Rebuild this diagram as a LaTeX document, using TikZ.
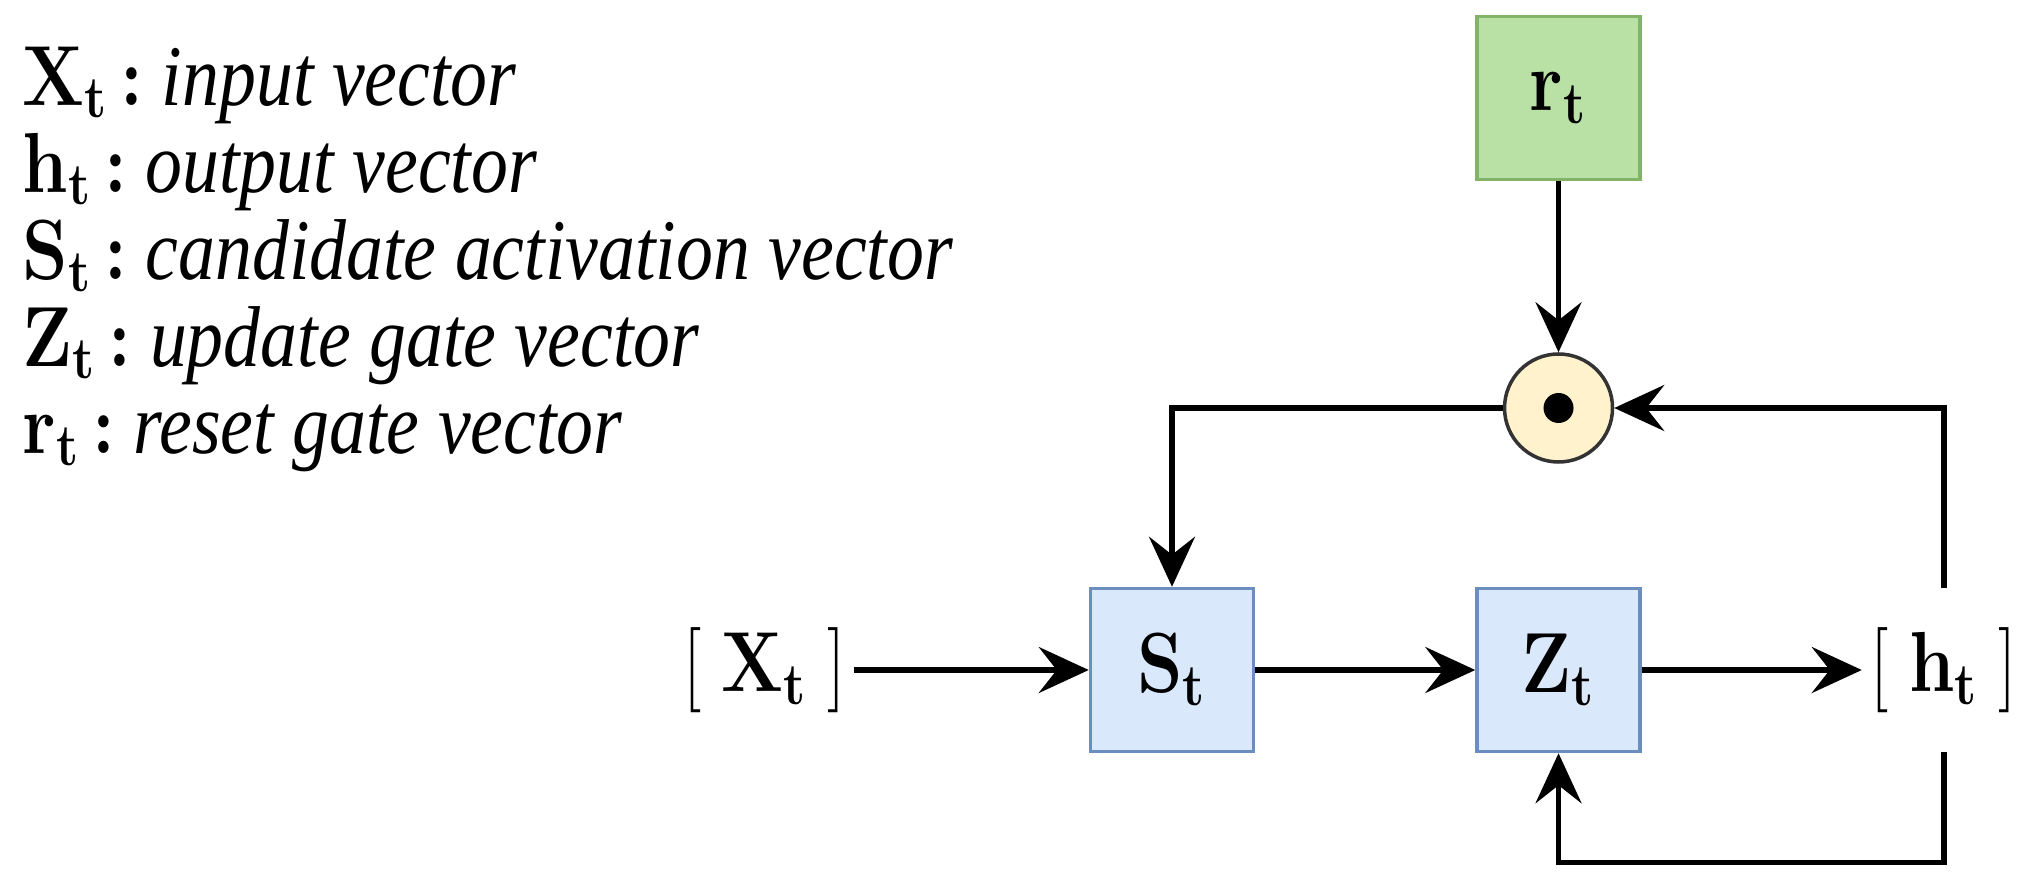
\documentclass[tikz,border=0pt]{standalone}
\usepackage{amsmath}
\usepackage{graphicx}
\usepackage[no-math]{fontspec}
\setmainfont{Liberation Serif}
\usepackage{tikz}
\usetikzlibrary{positioning}
\usetikzlibrary{arrows.meta}

\definecolor{gatefill}{HTML}{DAE8FC}
\definecolor{gateline}{HTML}{6C8EBF}
\definecolor{resetfill}{HTML}{B9E0A5}
\definecolor{resetline}{HTML}{82B366}
\definecolor{prodfill}{HTML}{FFF2CC}
\definecolor{prodline}{HTML}{333333}

\newcommand{\tallbox}[1]{\scalebox{1}[1.17]{#1}}

\begin{document}
\begin{tikzpicture}
		[gate/.style={rectangle, draw=gateline, fill=gatefill, line width=1pt, minimum size=1.63cm, font=\fontsize{21}{25}\selectfont},
		 reset/.style={gate, draw=resetline, fill=resetfill},
		 port/.style={rectangle, minimum size=1.63cm, inner sep=1pt, font=\fontsize{21}{25}\selectfont},
		 prod/.style={circle, draw=prodline, fill=prodfill, line width=1pt, minimum size=1.08cm},
		 legend/.style={anchor=base west, inner sep=0pt, font=\fontsize{21}{25}\selectfont},
		 flow/.style={-{Stealth[length=5mm, width=4.6mm, inset=1.8mm]}, line width=1.5pt},
		 node distance=2.2cm]
		\useasboundingbox (0,0) rectangle (20.26,8.88);

		\node[legend] (lx) at (0.22,7.83) {\tallbox{$\mathbf{X_t}\,{\boldsymbol{:}}$ \textit{input vector}}};
		\node[legend] (lh) at (0.22,6.96) {\tallbox{$\mathbf{h_t}\,{\boldsymbol{:}}$ \textit{output vector}}};
		\node[legend] (ls) at (0.22,6.09) {\tallbox{$\mathbf{S_t}\,{\boldsymbol{:}}$ \textit{candidate activation vector}}};
		\node[legend] (lz) at (0.22,5.22) {\tallbox{$\mathbf{Z_t}\,{\boldsymbol{:}}$ \textit{update gate vector}}};
		\node[legend] (lr) at (0.22,4.35) {\tallbox{$\mathbf{r_t}\,{\boldsymbol{:}}$ \textit{reset gate vector}}};

		\node[gate] (s) at (11.72,2.18) {\tallbox{$\mathbf{S_t}$}};
		\node[gate, right=of s] (z) {\tallbox{$\mathbf{Z_t}$}};
		\node[port, right=of z] (h) {\tallbox{$[\;\mathbf{h_t}\;]$}};
		\node[port, minimum size=0pt, inner sep=2pt, left=2.35cm of s] (x) {\tallbox{$[\;\mathbf{X_t}\;]$}};
		\node[prod, above=1.23cm of z] (p) {};
		\node[reset, above=1.71cm of p] (r) {\tallbox{$\mathbf{r_t}$}};
		\fill (p) circle (0.15);
		\coordinate[below=1.1cm of h] (hb);

		\draw[flow] (x) -- (s);
		\draw[flow] (s) -- (z);
		\draw[flow] (z) -- (h);
		\draw[flow] (r) -- (p);
		\draw[flow] (p) -| (s);
		\draw[flow] (h) |- (p);
		\draw[flow] (h) -- (hb) -| (z);
	\end{tikzpicture}
\end{document}
